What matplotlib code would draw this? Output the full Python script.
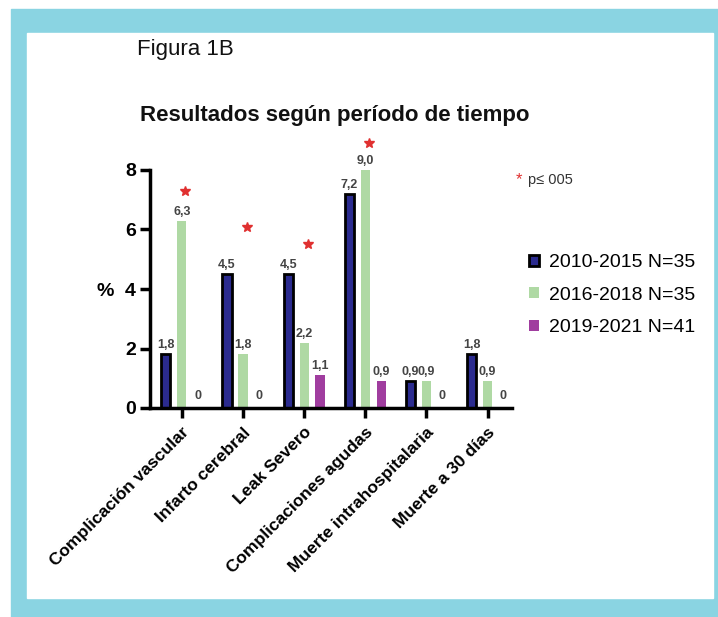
import numpy as np
import matplotlib.pyplot as plt
from matplotlib.patches import Rectangle

# Datos
categorias = ["Complicación vascular", "Infarto cerebral", "Leak Severo",
              "Complicaciones agudas", "Muerte intrahospitalaria", "Muerte a 30 días"]
serie_2010 = [1.8, 4.5, 4.5, 7.2, 0.9, 1.8]
serie_2016 = [6.3, 1.8, 2.2, 9.0, 0.9, 0.9]
serie_2019 = [0, 0, 1.1, 0.9, 0, 0]
nombres = ["2010-2015 N=35", "2016-2018 N=35", "2019-2021 N=41"]
estrella_y = [7.3, 6.1, 5.5, 8.9]   # posición de los asteriscos (p<0,05)
yticks = [0, 2, 4, 6, 8]

plt.rcParams['font.family'] = ['Liberation Sans', 'DejaVu Sans']

W, H = 718, 617
fig = plt.figure(figsize=(W / 100, H / 100), dpi=100)

# Marco celeste
fig.patches.append(Rectangle((11 / W, 0), 1 - 11 / W, 1 - 9 / H, transform=fig.transFigure,
                             color='#8ad4e2', zorder=-2))
fig.patches.append(Rectangle((27 / W, 1 - 598 / H), (713 - 27) / W, (598 - 33) / H,
                             transform=fig.transFigure, color='white', zorder=-1))

ax = fig.add_axes([150 / W, 1 - 408 / H, (512 - 150) / W, (408 - 170) / H])
ax.set_facecolor('none')

x = np.arange(len(categorias))
off = 0.26
w = 0.15
colores = ['#2b2b8f', '#afd9a4', '#a03d9f']

ax.bar(x - off, serie_2010, w, color=colores[0], edgecolor='black', linewidth=2, label=nombres[0])
ax.bar(x, serie_2016, w, color=colores[1], label=nombres[1])
ax.bar(x + off, serie_2019, w, color=colores[2], label=nombres[2])

def etiqueta(v):
    return "0" if v == 0 else f"{v:.1f}".replace('.', ',')

for serie, dx in [(serie_2010, -off), (serie_2016, 0), (serie_2019, off)]:
    for i, v in enumerate(serie):
        yb = min(v, 8)
        ax.text(x[i] + dx, yb + (0.2 if v == 0 else 0.1), etiqueta(v), ha='center', va='bottom',
                fontsize=9, fontweight='bold', color='#444444', clip_on=False)

for i, yv in enumerate(estrella_y):
    ax.plot(x[i] + 0.06, yv, marker='*', color='#e03030', markersize=7.5, clip_on=False,
            linestyle='none')

ax.set_ylim(0, 8)
ax.set_xlim(-0.52, 5.4)
ax.set_yticks(yticks)
ax.set_xticks(x)
ax.set_xticklabels(categorias, rotation=45, ha='right', rotation_mode='anchor',
                   fontsize=12.5, fontweight='bold')
for lab in ax.get_yticklabels():
    lab.set_fontweight('bold')
    lab.set_fontsize(14)
ax.tick_params(axis='both', width=2.5, length=7, direction='out', pad=3)
ax.tick_params(axis='x', pad=5)
for s in ['top', 'right']:
    ax.spines[s].set_visible(False)
for s in ['left', 'bottom']:
    ax.spines[s].set_linewidth(2.5)

ax.set_ylabel('%', fontsize=14, fontweight='bold', rotation=0, va='center', ha='center')
ax.yaxis.set_label_coords(-0.124, 0.49)

# Textos
fig.text(137 / W, 1 - 50 / H, "Figura 1B", fontsize=16, va='center', ha='left', color='#111111')
fig.text(140 / W, 1 - 115 / H, "Resultados según período de tiempo", fontsize=16,
         fontweight='bold', va='center', ha='left', color='#111111')

fig.text(516 / W, 1 - 180 / H, "*", color='#e03030', fontsize=12, va='center', ha='left')
fig.text(528 / W, 1 - 180 / H, "p≤ 005", fontsize=10.5, va='center', ha='left', color='#333333')

leg = fig.legend(loc='upper left', bbox_to_anchor=(529 / W, 1 - 254 / H),
                 bbox_transform=fig.transFigure, frameon=False, fontsize=14,
                 borderpad=0, borderaxespad=0,
                 handlelength=0.5, handleheight=0.5, handletextpad=0.55, labelspacing=0.8)

fig.savefig('out.png', dpi=100)
